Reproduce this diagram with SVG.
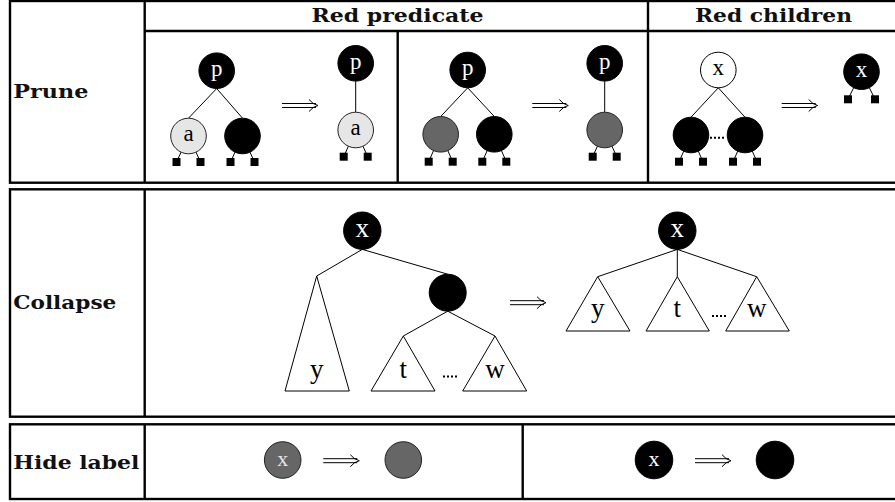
<svg xmlns="http://www.w3.org/2000/svg" xmlns:xlink="http://www.w3.org/1999/xlink" width="895" height="502" viewBox="0 0 895 502">
  <style>
    .frame { stroke: #000; stroke-width: 2.4; fill: none; }
    .edge { stroke: #000; stroke-width: 1; fill: none; }
    .dots { stroke: #000; stroke-width: 2; stroke-dasharray: 2 2; fill: none; }
    .blk { fill: #000; stroke: #000; stroke-width: 1; }
    .gry { fill: #666; stroke: #222; stroke-width: 1; }
    .lgt { fill: #e6e6e6; stroke: #222; stroke-width: 1; }
    .wht { fill: #fff; stroke: #000; stroke-width: 1; }
    .leaf { fill: #000; }
    .tri { fill: #fff; stroke: #000; stroke-width: 1; }
    .hd { font-family: "DejaVu Serif", "Liberation Serif", serif; font-weight: bold; font-size: 19px; fill: #111; }
    .lb { font-family: "Liberation Serif", "Times New Roman", serif; text-anchor: middle; }
    .s23 { font-size: 23px; }
    .s27 { font-size: 27px; }
    .s22 { font-size: 22px; }
    .on-dark { fill: #fff; }
    .on-gray { fill: #e4e4e4; }
    .on-light { fill: #000; }
  </style>
  <defs>
    <!-- long double arrow (implies), tip at (36,0) -->
    <g id="imp" fill="none" stroke="#000" stroke-width="1">
      <path d="M0,-2 H34 M0,2 H34"/>
      <path d="M27,-6 Q31,-1 36,0 Q31,1 27,6"/>
    </g>
  </defs>

  <rect width="895" height="502" fill="#fff"/>

  <!-- table frames -->
  <g id="frames" class="frame">
    <rect x="10" y="1" width="900" height="181.7"/>
    <path d="M144.7,1 V182.7 M144.7,31 H895 M397.7,31 V182.7 M648,1 V182.7"/>
    <rect x="10" y="189.3" width="900" height="227.4"/>
    <path d="M144.7,189.3 V416.7"/>
    <rect x="10" y="424.3" width="900" height="74.7"/>
    <path d="M144.7,424.3 V499 M522.7,424.3 V499"/>
  </g>

  <!-- headings -->
  <g id="headings" class="hd">
    <text x="311.5" y="21.7" textLength="172" lengthAdjust="spacingAndGlyphs">Red predicate</text>
    <text x="695" y="21.7" textLength="157" lengthAdjust="spacingAndGlyphs">Red children</text>
    <text x="13.3" y="98.3" textLength="75" lengthAdjust="spacingAndGlyphs">Prune</text>
    <text x="13.3" y="309" textLength="103" lengthAdjust="spacingAndGlyphs">Collapse</text>
    <text x="13.3" y="469.3" textLength="126" lengthAdjust="spacingAndGlyphs">Hide label</text>
  </g>

  <!-- connectors -->
  <g id="connectors" class="edge">
    <!-- prune, red predicate, light child -->
    <path d="M216.7,88.5 L188.5,118.2 M216.7,88.5 L242.5,118.2"/>
    <path d="M188.5,136 L176.5,162 M188.5,136 L200.5,162 M242.5,136 L230.5,162 M242.5,136 L254.5,162"/>
    <path d="M355.7,81.1 V112.2 M355.7,130 L343.7,156.7 M355.7,130 L367.7,156.7"/>
    <!-- prune, red predicate, gray child -->
    <path d="M467.7,87.8 L440.7,116.5 M467.7,87.8 L494.3,116.5"/>
    <path d="M440.7,134.3 L428.7,161.7 M440.7,134.3 L452.7,161.7 M494.3,134.3 L482.3,161.7 M494.3,134.3 L506.3,161.7"/>
    <path d="M604.7,81.1 V112.2 M604.7,130 L592.7,156.7 M604.7,130 L616.7,156.7"/>
    <!-- prune, red children -->
    <path d="M718.3,87.8 L691,117.2 M718.3,87.8 L745,117.2"/>
    <path d="M691,135 L679,161.7 M691,135 L703,161.7 M745,135 L733,161.7 M745,135 L757,161.7"/>
    <path d="M861.5,71.7 L848,99.3 M861.5,71.7 L875,99.3"/>
    <!-- collapse, before -->
    <path d="M362.3,249.4 L316.7,276 M362.3,249.4 L447.7,274.2"/>
    <path d="M447.7,311.2 L403.3,336 M447.7,311.2 L495,336"/>
    <!-- collapse, after -->
    <path d="M677.3,249.4 L597.7,276.7 M677.3,249.4 L677.3,276.7 M677.3,249.4 L756.7,276.7"/>
  </g>

  <!-- elision dots -->
  <g id="ellipses" class="dots">
    <path d="M710,137.7 H726"/>
    <path d="M443,376.5 H457"/>
    <path d="M712,316 H726"/>
  </g>

  <!-- transformation arrows -->
  <g id="arrows">
    <use xlink:href="#imp" x="282" y="105.5"/>
    <use xlink:href="#imp" x="532.3" y="105.5"/>
    <use xlink:href="#imp" x="781.7" y="105.5"/>
    <use xlink:href="#imp" x="510" y="302.7"/>
    <use xlink:href="#imp" x="323.3" y="460.7"/>
    <use xlink:href="#imp" x="695" y="460.7"/>
  </g>

  <!-- Prune / red predicate, light child -->
  <g id="n-p1"><circle class="blk" cx="216.7" cy="70.7" r="17.8"/><text class="lb s23 on-dark" x="216.7" y="76">p</text></g>
  <g id="n-a1"><circle class="lgt" cx="188.5" cy="136" r="17.8"/><text class="lb s23 on-light" x="188.5" y="141">a</text></g>
  <g id="n-b1"><circle class="blk" cx="242.5" cy="136" r="17.8"/></g>
  <g id="l-1a"><rect class="leaf" x="172.5" y="158" width="8" height="8"/></g>
  <g id="l-1b"><rect class="leaf" x="196.5" y="158" width="8" height="8"/></g>
  <g id="l-1c"><rect class="leaf" x="226.5" y="158" width="8" height="8"/></g>
  <g id="l-1d"><rect class="leaf" x="250.5" y="158" width="8" height="8"/></g>
  <g id="n-p2"><circle class="blk" cx="355.7" cy="63.3" r="17.8"/><text class="lb s23 on-dark" x="355.7" y="68.6">p</text></g>
  <g id="n-a2"><circle class="lgt" cx="355.7" cy="130" r="17.8"/><text class="lb s23 on-light" x="355.7" y="135.3">a</text></g>
  <g id="l-2a"><rect class="leaf" x="339.7" y="152.7" width="8" height="8"/></g>
  <g id="l-2b"><rect class="leaf" x="363.7" y="152.7" width="8" height="8"/></g>

  <!-- Prune / red predicate, gray child -->
  <g id="n-p3"><circle class="blk" cx="467.7" cy="70" r="17.8"/><text class="lb s23 on-dark" x="467.7" y="75.3">p</text></g>
  <g id="n-g3"><circle class="gry" cx="440.7" cy="134.3" r="17.8"/></g>
  <g id="n-b3"><circle class="blk" cx="494.3" cy="134.3" r="17.8"/></g>
  <g id="l-3a"><rect class="leaf" x="424.7" y="157.7" width="8" height="8"/></g>
  <g id="l-3b"><rect class="leaf" x="448.7" y="157.7" width="8" height="8"/></g>
  <g id="l-3c"><rect class="leaf" x="478.3" y="157.7" width="8" height="8"/></g>
  <g id="l-3d"><rect class="leaf" x="502.3" y="157.7" width="8" height="8"/></g>
  <g id="n-p4"><circle class="blk" cx="604.7" cy="63.3" r="17.8"/><text class="lb s23 on-dark" x="604.7" y="68.6">p</text></g>
  <g id="n-g4"><circle class="gry" cx="604.7" cy="130" r="17.8"/></g>
  <g id="l-4a"><rect class="leaf" x="588.7" y="152.7" width="8" height="8"/></g>
  <g id="l-4b"><rect class="leaf" x="612.7" y="152.7" width="8" height="8"/></g>

  <!-- Prune / red children -->
  <g id="n-x5"><circle class="wht" cx="718.3" cy="70" r="17.8"/><text class="lb s23 on-light" x="718.3" y="75.3">x</text></g>
  <g id="n-b5a"><circle class="blk" cx="691" cy="135" r="17.8"/></g>
  <g id="n-b5b"><circle class="blk" cx="745" cy="135" r="17.8"/></g>
  <g id="l-5a"><rect class="leaf" x="675" y="157.7" width="8" height="8"/></g>
  <g id="l-5b"><rect class="leaf" x="699" y="157.7" width="8" height="8"/></g>
  <g id="l-5c"><rect class="leaf" x="729" y="157.7" width="8" height="8"/></g>
  <g id="l-5d"><rect class="leaf" x="753" y="157.7" width="8" height="8"/></g>
  <g id="n-x6"><circle class="blk" cx="861.5" cy="71.7" r="17.8"/><text class="lb s23 on-dark" x="861.5" y="77">x</text></g>
  <g id="l-6a"><rect class="leaf" x="844" y="95.3" width="8" height="8"/></g>
  <g id="l-6b"><rect class="leaf" x="871" y="95.3" width="8" height="8"/></g>

  <!-- Collapse, before -->
  <g id="n-cx1"><circle class="blk" cx="362.3" cy="230.7" r="18.7"/><text class="lb s27 on-dark" x="362.3" y="236.7">x</text></g>
  <g id="n-cb1"><circle class="blk" cx="447.7" cy="292.7" r="18.5"/></g>
  <g id="t-y1"><path class="tri" d="M316.7,276 L285,391 L349.3,391 Z"/><text class="lb s27" x="316.7" y="378">y</text></g>
  <g id="t-t1"><path class="tri" d="M403.3,336 L371,391 L435,391 Z"/><text class="lb s27" x="403.3" y="378">t</text></g>
  <g id="t-w1"><path class="tri" d="M495,336 L462.7,391 L526.7,391 Z"/><text class="lb s27" x="495" y="378">w</text></g>

  <!-- Collapse, after -->
  <g id="n-cx2"><circle class="blk" cx="677.3" cy="230.7" r="18.7"/><text class="lb s27 on-dark" x="677.3" y="236.7">x</text></g>
  <g id="t-y2"><path class="tri" d="M597.7,276.7 L566,331 L630,331 Z"/><text class="lb s27" x="597.7" y="316.7">y</text></g>
  <g id="t-t2"><path class="tri" d="M677.3,276.7 L646,331 L709.3,331 Z"/><text class="lb s27" x="677.3" y="316.7">t</text></g>
  <g id="t-w2"><path class="tri" d="M756.7,276.7 L725.7,331 L789.3,331 Z"/><text class="lb s27" x="756.7" y="316.7">w</text></g>

  <!-- Hide label -->
  <g id="n-h1"><circle class="gry" cx="282.7" cy="460" r="18.3"/><text class="lb s22 on-gray" x="282.7" y="465.5">x</text></g>
  <g id="n-h2"><circle class="gry" cx="403.3" cy="460" r="18.3"/></g>
  <g id="n-h3"><circle class="blk" cx="654" cy="460" r="18.8"/><text class="lb s22 on-dark" x="654" y="465.5">x</text></g>
  <g id="n-h4"><circle class="blk" cx="775" cy="460" r="18.8"/></g>
</svg>
